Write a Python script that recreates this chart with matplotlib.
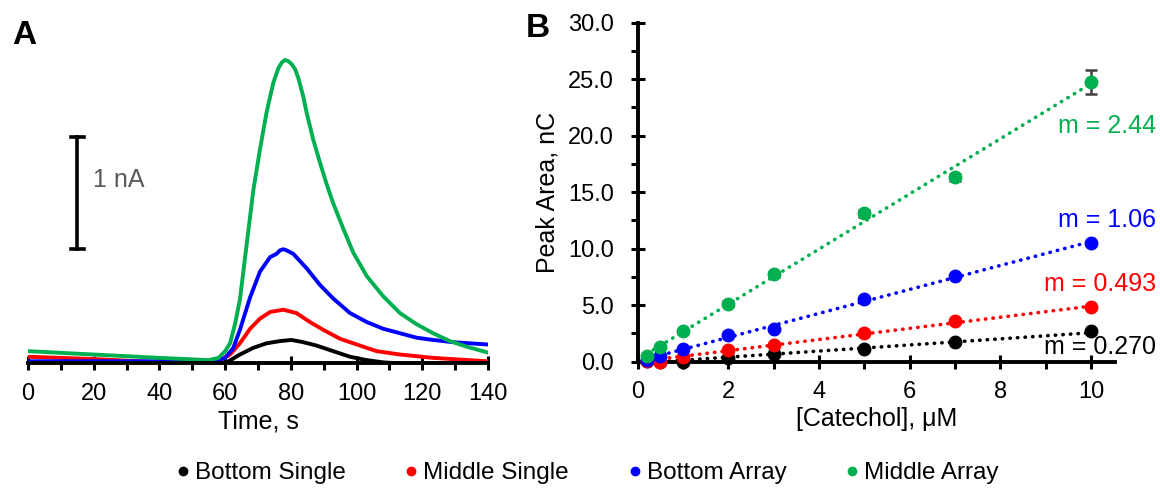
import numpy as np
import matplotlib.pyplot as plt
from matplotlib.ticker import MultipleLocator, FormatStrFormatter
from matplotlib.lines import Line2D

plt.rcParams['font.family'] = ['Liberation Sans', 'DejaVu Sans']

GREEN = '#00B050'
RED = '#FF0000'
BLUE = '#0000FF'
BLACK = '#000000'

# --- panel A: current traces (nA vs s) ---
t_ms = [0, 20, 40, 55, 58, 60, 61.5, 63.0, 64.5, 66.5, 68.6, 70.6, 72.6, 74.7, 76.2,
        77.2, 78.2, 79.2, 80.2, 81.3, 82.3, 83.8, 84.8, 86.8, 88.9, 90.9, 92.9, 96.0,
        99.0, 103.1, 108.1, 113.2, 118.3, 123.3, 128.4, 133.5, 139.6]
i_ms = [0.11, 0.08, 0.05, 0.03, 0.05, 0.11, 0.18, 0.35, 0.57, 1.05, 1.55, 1.91, 2.24,
        2.51, 2.635, 2.686, 2.71, 2.70, 2.674, 2.627, 2.546, 2.38, 2.24, 2.00, 1.79,
        1.60, 1.43, 1.20, 0.99, 0.78, 0.60, 0.45, 0.35, 0.27, 0.20, 0.15, 0.10]

t_ba = [0, 20, 40, 55, 58, 60, 62.5, 64.5, 67.6, 70.6, 73.7, 75.7, 76.7, 77.7, 78.7,
        79.7, 80.7, 84.8, 88.9, 92.9, 98.0, 103.1, 108.1, 113.2, 118.3, 123.3, 129.4,
        139.6]
i_ba = [0.02, 0.02, 0.02, 0.02, 0.03, 0.05, 0.14, 0.30, 0.59, 0.82, 0.95, 0.98, 1.01,
        1.02, 1.01, 0.995, 0.98, 0.85, 0.70, 0.58, 0.45, 0.37, 0.31, 0.27, 0.23, 0.21,
        0.19, 0.17]

t_mss = [0, 20, 40, 55, 58, 61.5, 64.5, 67.6, 70.6, 73.7, 77.7, 81.7, 85.8, 89.9, 95.0,
         100.0, 106.1, 113.2, 123.3, 139.6]
i_mss = [0.06, 0.04, 0.01, 0.01, 0.02, 0.08, 0.18, 0.31, 0.40, 0.46, 0.48, 0.45, 0.37,
         0.30, 0.22, 0.17, 0.11, 0.08, 0.05, 0.02]

t_bs = [0, 20, 40, 55, 59.95, 64.5, 68.6, 72.6, 76.7, 80.2, 83.8, 87.8, 92.9, 98.0,
        103.1, 108.1, 113.2, 140]
i_bs = [0.01, 0.01, 0.01, 0.01, 0.0, 0.08, 0.14, 0.18, 0.20, 0.21, 0.19, 0.16, 0.11,
        0.06, 0.03, 0.01, 0.0, 0.0]

# --- panel B: calibration (peak area, nC vs catechol, uM) ---
conc = [0.2, 0.5, 1, 2, 3, 5, 7, 10]
area_bs = [0.05, 0.0, -0.05, 0.3, 0.68, 1.15, 1.77, 2.74]
area_mss = [0.1, 0.0, 0.44, 1.03, 1.47, 2.56, 3.62, 4.85]
area_ba = [0.15, 0.5, 1.12, 2.36, 2.91, 5.59, 7.56, 10.5]
area_ms = [0.5, 1.33, 2.71, 5.15, 7.74, 13.15, 16.33, 24.77]
err_ms = [0.1, 0.1, 0.1, 0.2, 0.2, 0.3, 0.3, 1.07]
slopes = [0.270, 0.493, 1.06, 2.44]
slope_labels = ['0.270', '0.493', '1.06', '2.44']

names = ['Bottom Single', 'Middle Single', 'Bottom Array', 'Middle Array']
colors = [BLACK, RED, BLUE, GREEN]

fig = plt.figure(figsize=(11.6, 4.95), dpi=100)

# panel A
ax1 = fig.add_axes([0.0241, 0.2657, 0.3966, 0.6788])
for t, i, c in [(t_bs, i_bs, BLACK), (t_mss, i_mss, RED),
                (t_ba, i_ba, BLUE), (t_ms, i_ms, GREEN)]:
    ax1.plot(t, i, color=c, lw=2.8, solid_joinstyle='round', zorder=2)
ax1.set_xlim(0, 140)
ax1.set_ylim(0, 3.0)
for s in ['left', 'right', 'top']:
    ax1.spines[s].set_visible(False)
ax1.spines['bottom'].set_linewidth(2.8)
ax1.spines['bottom'].set_zorder(3)
ax1.set_yticks([])
ax1.xaxis.set_major_locator(MultipleLocator(20))
ax1.xaxis.set_minor_locator(MultipleLocator(10))
ax1.tick_params(axis='x', which='major', direction='inout', length=10, width=2.2,
                labelsize=17, pad=9)
ax1.tick_params(axis='x', which='minor', direction='out', length=5, width=2.2)
ax1.set_xlabel('Time, s', fontsize=18, labelpad=3)

# 1 nA scale bar
ax1.plot([15, 15], [1.02, 2.02], color='black', lw=2.6, clip_on=False)
ax1.plot([13.0, 17.0], [1.02, 1.02], color='black', lw=2.6, clip_on=False)
ax1.plot([13.0, 17.0], [2.02, 2.02], color='black', lw=2.6, clip_on=False)
ax1.text(19.8, 1.64, '1 nA', color='#595959', fontsize=18, va='center', ha='left')

fig.text(0.0103, 0.929, 'A', fontsize=24, fontweight='bold', va='center')

# panel B
ax2 = fig.add_axes([0.5497, 0.2693, 0.4115, 0.6848])
xs = np.array(conc)
series = [area_bs, area_mss, area_ba, area_ms]
for k, (ys, c, m) in enumerate(zip(series, colors, slopes)):
    ys = np.array(ys)
    b = ys.mean() - m * xs.mean()
    fit_x = np.array([conc[0], conc[-1]])
    ax2.plot(fit_x, m * fit_x + b, color=c, lw=2.6, linestyle=(0, (0.1, 2.0)),
             dash_capstyle='round', zorder=2, clip_on=False)
    ax2.plot(xs, ys, 'o', color=c, ms=9, zorder=4, clip_on=False)
ax2.errorbar(conc, area_ms, yerr=err_ms, fmt='none', ecolor='#404040',
             elinewidth=1.8, capsize=4, capthick=1.8, zorder=3)

ax2.set_xlim(0, 10.53)
ax2.set_ylim(0, 30)
for s in ['right', 'top']:
    ax2.spines[s].set_visible(False)
for s in ['left', 'bottom']:
    ax2.spines[s].set_linewidth(2.8)
    ax2.spines[s].set_zorder(3)
ax2.xaxis.set_major_locator(MultipleLocator(2))
ax2.xaxis.set_minor_locator(MultipleLocator(1))
ax2.yaxis.set_major_locator(MultipleLocator(5))
ax2.yaxis.set_minor_locator(MultipleLocator(2.5))
ax2.yaxis.set_major_formatter(FormatStrFormatter('%.1f'))
ax2.tick_params(which='major', direction='inout', length=10, width=2.2,
                labelsize=17)
ax2.tick_params(axis='x', which='major', pad=9)
ax2.tick_params(axis='y', which='major', pad=12)
ax2.tick_params(which='minor', direction='out', length=5, width=2.2)
ax2.set_xlabel('[Catechol], μM', fontsize=18, labelpad=3)
ax2.set_ylabel('Peak Area, nC', fontsize=18, labelpad=6)

label_y = [347, 284, 220, 126]
for c, lab, py in zip(colors, slope_labels, label_y):
    fig.text(0.9965, 1 - py / 495, 'm = ' + lab, color=c, fontsize=18,
             ha='right', va='center', zorder=5)

fig.text(0.453, 0.942, 'B', fontsize=24, fontweight='bold', va='center')

handles = [Line2D([], [], marker='o', ls='none', color=c, ms=6) for c in colors]
fig.legend(handles, names, loc='center', bbox_to_anchor=(0.505, 0.044), ncol=4,
           frameon=False, fontsize=17.5, handletextpad=0.1, columnspacing=2.3,
           handlelength=0.8)

fig.savefig('out.png', dpi=100)
